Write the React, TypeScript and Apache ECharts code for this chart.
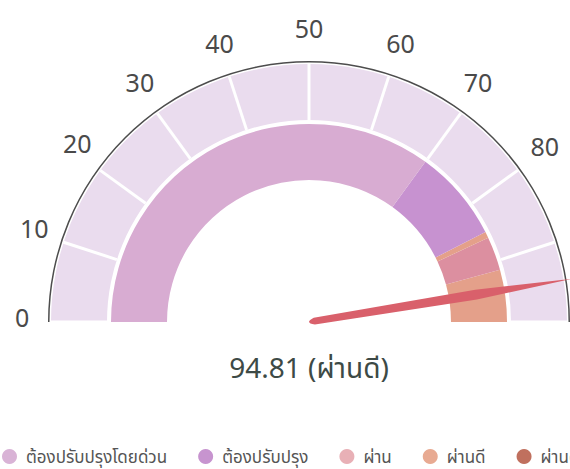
import React, { useEffect, useRef } from "react";
import * as echarts from "echarts";

const minValue = 0;
const maxValue = 100;
const splitCount = 10;
const gaugeValue = 94.81;
const gaugeStatus = "ผ่านดี";

const legendNames = ["ต้องปรับปรุงโดยด่วน", "ต้องปรับปรุง", "ผ่าน", "ผ่านดี", "ผ่านดีมาก"];
const legendColors = ["#d9b3d6", "#c794cf", "#e8b0b6", "#e8aa92", "#c0705e"];

// inner band segments: [end fraction, colour]
const bandStops = [0.7, 0.85, 0.86, 0.915, 1];
const bandColors = ["#d8acd2", "#c792d0", "#e4a08a", "#dc8fa0", "#e4a08a"];

// tick labels, grouped by how ECharts auto-aligns them (each group gets its own ring)
const labelsZero = [0];
const labelsSideMid = [10, 20, 90];
const labelsEighty = [80];
const labelsForty = [40];
const labelsFifty = [50];
const labelsSixty = [60];
const labelsCorner = [30, 70];
const labelsFar = [100];

const FONT = "'Noto Sans', 'Noto Sans Thai', Lato, sans-serif";

export default function App() {
  const ref = useRef<HTMLDivElement>(null);
  useEffect(() => {
    if (!ref.current) return;
    const chart = echarts.init(ref.current, null, { renderer: "svg" });
    const center = [309, 322];
    const hidden = {
      axisTick: { show: false },
      axisLabel: { show: false },
      splitLine: { show: false },
      pointer: { show: false },
      detail: { show: false },
      title: { show: false },
      anchor: { show: false },
    };
    const base = {
      type: "gauge",
      center,
      startAngle: 180,
      endAngle: 0,
      min: minValue,
      max: maxValue,
      splitNumber: splitCount,
      silent: true,
    };
    const labelRing = (radius: number, values: number[], padding: number[] = [0, 0, 0, 0]) => ({
      ...base,
      ...hidden,
      radius,
      axisLine: { show: false, lineStyle: { width: 0 } },
      splitLine: { show: false, length: 0, distance: 0 },
      axisLabel: {
        show: true,
        distance: 0,
        fontSize: 25,
        color: "#4a4a4a",
        fontFamily: FONT,
        rich: {
          t: { fontSize: 25, color: "#4a4a4a", fontFamily: FONT, padding },
        },
        formatter: (v: number) =>
          values.indexOf(Math.round(v)) >= 0 ? `{t|${Math.round(v)}}` : "",
      },
      data: [{ value: gaugeValue }],
    });
    const option: any = {
      animation: false,
      legend: {
        left: 2,
        top: 448,
        width: 1200,
        padding: 0,
        icon: "circle",
        itemWidth: 15,
        itemHeight: 15,
        itemGap: 31,
        data: legendNames,
        textStyle: { fontSize: 17, color: "#555", fontFamily: FONT, padding: [0, 0, 0, 4] },
      },
      series: [
        {
          type: "pie",
          radius: [0, 0],
          center: [-50, -50],
          stillShowZeroSum: false,
          showEmptyCircle: false,
          silent: true,
          label: { show: false },
          labelLine: { show: false },
          data: legendNames.map((n, i) => ({ name: n, value: 0, itemStyle: { color: legendColors[i] } })),
        },
        {
          ...base,
          ...hidden,
          radius: 261,
          axisLine: { show: true, lineStyle: { width: 1.5, color: [[1, "#4d4d4d"]] } },
          data: [{ value: gaugeValue }],
        },
        {
          ...base,
          ...hidden,
          radius: 258,
          axisLine: { show: true, lineStyle: { width: 56, color: [[1, "#eadcee"]] } },
          splitLine: { show: true, length: 56, distance: -56, lineStyle: { color: "#ffffff", width: 3 } },
          data: [{ value: gaugeValue }],
        },
        {
          ...base,
          ...hidden,
          radius: 198,
          axisLine: {
            show: true,
            lineStyle: { width: 56, color: bandStops.map((s, i) => [s, bandColors[i]]) },
          },
          pointer: {
            show: true,
            icon: "path://M1.5,97 L0,36 L5,0 L10,36 L8.5,97 Q5,101 1.5,97 Z",
            length: 266,
            width: 10,
            offsetCenter: [0, 0],
            itemStyle: { color: "#d9606b" },
          },
          detail: {
            show: true,
            offsetCenter: [0, 45],
            fontSize: 28,
            fontWeight: "normal",
            color: "#3d4a46",
            fontFamily: FONT,
            formatter: (v: number) => `${v.toFixed(2)} (${gaugeStatus})`,
          },
          data: [{ value: gaugeValue }],
        },
        labelRing(294, labelsZero, [0, 0, 10, 0]),
        labelRing(304, labelsSideMid),
        labelRing(309, labelsEighty, [12, 0, 0, 0]),
        labelRing(306, labelsForty, [0, 0, 0, 10]),
        labelRing(307, labelsFifty),
        labelRing(306, labelsSixty, [0, 6, 0, 0]),
        labelRing(312, labelsCorner),
        labelRing(330, labelsFar),
      ],
    };
    chart.setOption(option);
    return () => chart.dispose();
  }, []);
  return <div ref={ref} style={{ width: 570, height: 469, position: "absolute", left: 0, top: 0 }} />;
}
